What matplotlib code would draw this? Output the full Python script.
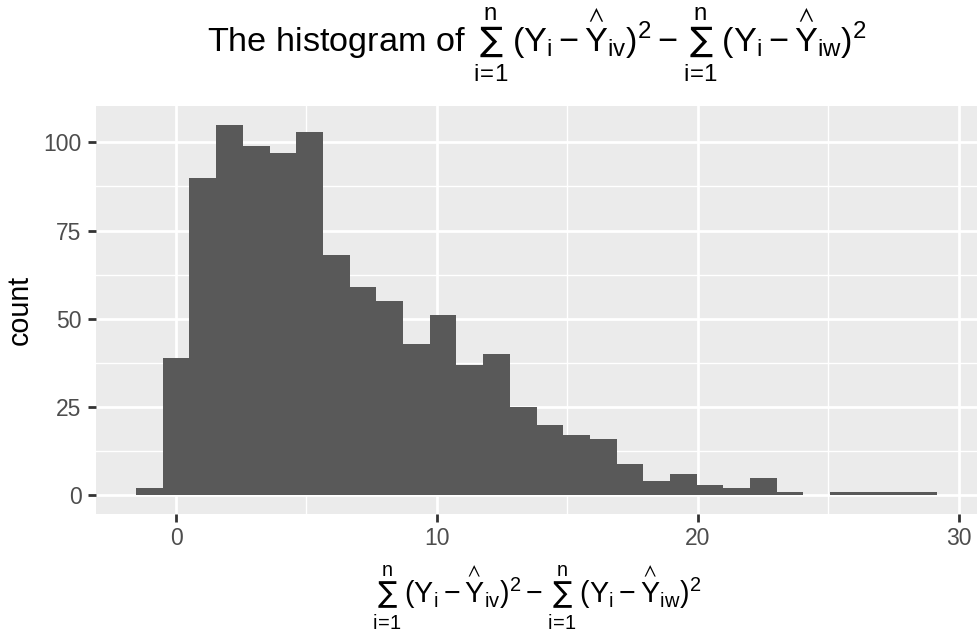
import numpy as np
import matplotlib
matplotlib.use("Agg")
import matplotlib.pyplot as plt

# histogram, 30 equal bins (ggplot2 default)
bin_start = -1.533
bin_width = 1.0234
counts = [2, 39, 90, 105, 99, 97, 103, 68, 59, 55, 43, 51, 37, 40, 25,
          20, 17, 16, 9, 4, 6, 3, 2, 5, 1, 0, 1, 1, 1, 1]

x_ticks = [0, 10, 20, 30]
x_minor = [5, 15, 25]
y_ticks = [0, 25, 50, 75, 100]
y_minor = [12.5, 37.5, 62.5, 87.5]

# big sum sign taken from the "cal" slot (DejaVu Sans), rest in Liberation Sans
big_sum = r"{\cal\sum_{\rm i\!=\!1}^{\rm n}}\,"
yhat = r"\overset{\wedge}{Y}"
expr = (r"$" + big_sum + r"(Y_i - " + yhat + r"_{iv})^2 - "
        + big_sum + r"(Y_i - " + yhat + r"_{iw})^2$")
title = "The histogram of " + expr
ylab = "count"

plt.rcParams["font.family"] = ["Liberation Sans", "DejaVu Sans"]
plt.rcParams["mathtext.fontset"] = "custom"
plt.rcParams["mathtext.rm"] = "Liberation Sans"
plt.rcParams["mathtext.it"] = "Liberation Sans"
plt.rcParams["mathtext.sf"] = "Liberation Sans"
plt.rcParams["mathtext.cal"] = "DejaVu Sans"
plt.rcParams["mathtext.default"] = "regular"

W, H = 977, 631
fig = plt.figure(figsize=(W / 100, H / 100), dpi=100)
ax = fig.add_axes([96 / W, 1 - 514 / H, 881 / W, 408 / H])
ax.set_facecolor("#EBEBEB")

edges = bin_start + bin_width * np.arange(len(counts) + 1)
ax.bar(edges[:-1], counts, width=bin_width, align="edge",
       color="#595959", linewidth=0, zorder=2)

# ggplot style 5% expansion
span = edges[-1] - edges[0]
ax.set_xlim(edges[0] - 0.05 * span, edges[-1] + 0.05 * span)
ax.set_ylim(-0.05 * max(counts), 1.05 * max(counts))

ax.set_xticks(x_ticks)
ax.set_xticks(x_minor, minor=True)
ax.set_yticks(y_ticks)
ax.set_yticks(y_minor, minor=True)
ax.grid(which="major", color="white", linewidth=2.0)
ax.grid(which="minor", color="white", linewidth=1.0)
ax.set_axisbelow(True)
for s in ax.spines.values():
    s.set_visible(False)

ax.tick_params(which="minor", length=0)
ax.tick_params(which="major", length=5.5, width=2.0, color="#333333",
               labelcolor="#4D4D4D", labelsize=16.5)
ax.tick_params(axis="x", pad=4)
ax.tick_params(axis="y", pad=5)

ax.set_xlabel(expr, fontsize=20.6, color="black", va="baseline")
ax.xaxis.set_label_coords(0.5, (514 - 603) / 408)
ax.set_ylabel(ylab, fontsize=20.6, color="black", va="center")
ax.yaxis.set_label_coords((20 - 96) / 881, 0.5)

ax.set_title(title, fontsize=24.7, color="black", pad=38.9)

fig.savefig("out.png", dpi=100)
